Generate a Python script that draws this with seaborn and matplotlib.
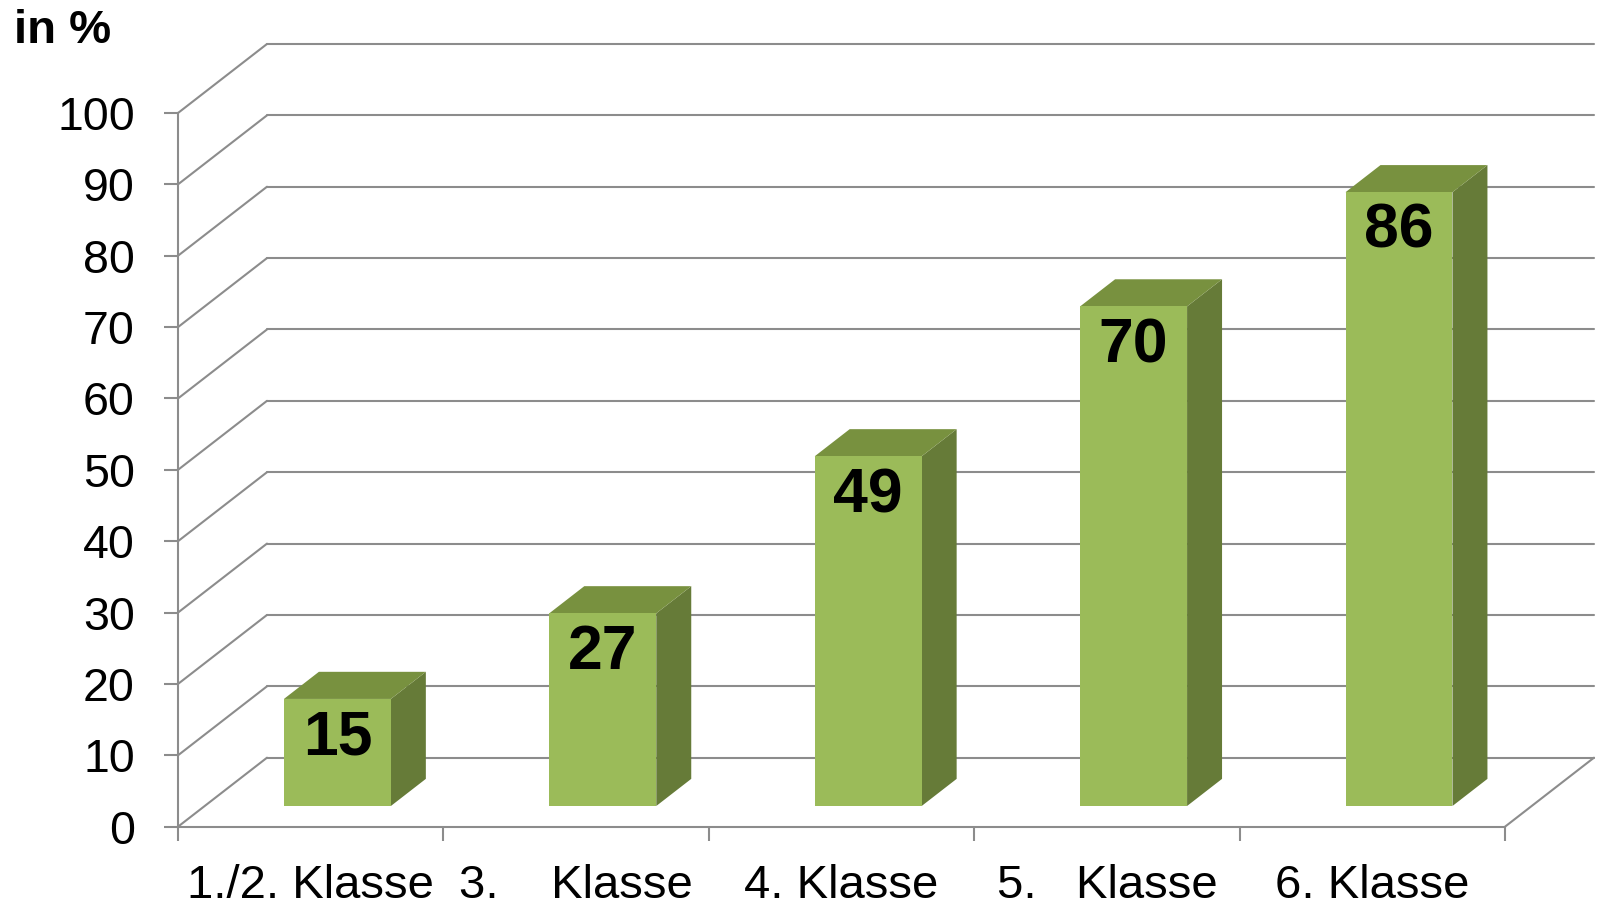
import matplotlib
matplotlib.use("Agg")
import matplotlib.pyplot as plt
from matplotlib.patches import Polygon
import seaborn as sns

# data
klassen = ["1./2. Klasse", "3.    Klasse", "4. Klasse", "5.   Klasse", "6. Klasse"]
werte = [15, 27, 49, 70, 86]
y_ticks = list(range(0, 101, 10))

# colours
front_col = "#9bbb59"
side_col = "#667b38"
top_col = "#78913f"
grid_col = "#8c8c8c"

sns.set_style("white")
plt.rcParams["font.family"] = ["Liberation Sans", "DejaVu Sans"]
plt.rcParams["text.color"] = "black"
plt.rcParams["xtick.labelcolor"] = "black"
plt.rcParams["ytick.labelcolor"] = "black"

fig = plt.figure(figsize=(15.98, 9.06), dpi=100)
ax = fig.add_axes([178 / 1598, (906 - 826.7) / 906, (1505 - 178) / 1598, (826.7 - 113) / 906])

# depth of the 3d box in data units (full depth) and bar placement
Dx, Dy = 0.3353, 9.67
bar_front = 0.3
bar_depth = 0.393

# back wall + left wall grid
for v in y_ticks:
    ax.plot([-0.5 + Dx, 4.5 + Dx], [v + Dy, v + Dy], color=grid_col, lw=1.5, clip_on=False, zorder=1)
    ax.plot([-0.5, -0.5 + Dx], [v, v + Dy], color=grid_col, lw=1.5, clip_on=False, zorder=1)
# right edge of the floor
ax.plot([4.5, 4.5 + Dx], [0, Dy], color=grid_col, lw=1.5, clip_on=False, zorder=1)

sns.barplot(x=klassen, y=werte, color=front_col, saturation=1, width=0.403, ax=ax, zorder=3)

bdx, bdy = bar_depth * Dx, bar_depth * Dy
for p, val in zip(ax.patches, werte):
    p.set_x(p.get_x() + bar_front * Dx)
    p.set_y(p.get_y() + bar_front * Dy)
    p.set_edgecolor("none")
    p.set_clip_on(False)
    x0, y0, w, h = p.get_x(), p.get_y(), p.get_width(), p.get_height()
    side = Polygon([(x0 + w, y0), (x0 + w + bdx, y0 + bdy), (x0 + w + bdx, y0 + h + bdy), (x0 + w, y0 + h)],
                   closed=True, facecolor=side_col, edgecolor="none", clip_on=False, zorder=2.5)
    top = Polygon([(x0, y0 + h), (x0 + w, y0 + h), (x0 + w + bdx, y0 + h + bdy), (x0 + bdx, y0 + h + bdy)],
                  closed=True, facecolor=top_col, edgecolor="none", clip_on=False, zorder=2.5)
    ax.add_patch(side)
    ax.add_patch(top)
    ax.text(x0 + w / 2, y0 + h - 5.5, str(val), ha="center", va="center",
            fontsize=45, fontweight="bold", color="black", zorder=5)

ax.set_xlim(-0.5, 4.5)
ax.set_ylim(0, 100)
ax.set_yticks(y_ticks)
ax.set_xticks(range(len(klassen)))
ax.set_xticklabels(klassen)
ax.set_xticks([i - 0.5 for i in range(len(klassen) + 1)], minor=True)
ax.set_xlabel("")
ax.set_ylabel("")

for s in ["top", "right"]:
    ax.spines[s].set_visible(False)
for s in ["left", "bottom"]:
    ax.spines[s].set_color(grid_col)
    ax.spines[s].set_linewidth(1.5)

ax.tick_params(axis="y", length=10, width=1.5, color=grid_col, labelsize=33.5, pad=21, left=True,
               labelcolor="black")
ax.tick_params(axis="x", which="major", length=0, labelsize=34, pad=27, labelcolor="black")
ax.tick_params(axis="x", which="minor", length=10, width=1.5, color=grid_col, bottom=True)

fig.text(14 / 1598, 1 - 31 / 906, "in %", ha="left", va="center", fontsize=34, fontweight="bold",
         color="black")

fig.savefig("out.png", dpi=100)
